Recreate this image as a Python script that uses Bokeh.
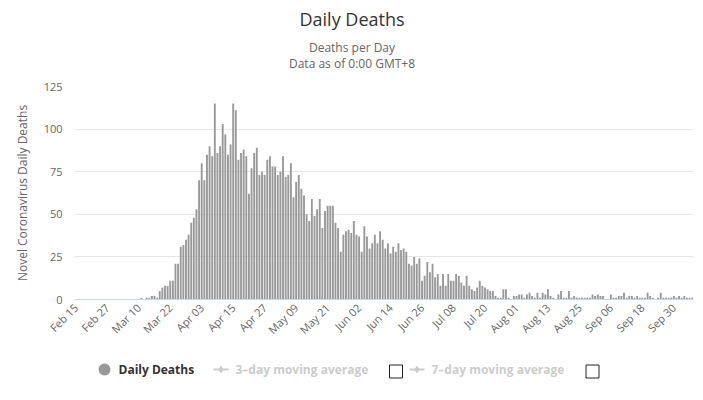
import pandas as pd
from math import pi
from bokeh.plotting import figure
from bokeh.layouts import column
from bokeh.models import Range1d, FixedTicker, DatetimeTickFormatter, ColumnDataSource
from bokeh.core.properties import value
from bokeh.embed import file_html
from bokeh.resources import INLINE

# ---------------- data ----------------
start_date = "2020-02-15"
deaths = [
    0, 0, 0, 0, 0, 0, 0, 0, 0, 0, 0, 0, 0, 0, 0, 0, 0, 0, 0, 0, 0, 0, 0, 0, 0,
    1, 0, 1, 1, 2, 2, 1,
    5, 7, 8, 8, 11, 11, 21, 21, 31, 32, 35, 38, 45, 48, 53, 70, 80, 70,
    85, 90, 84, 115, 86, 90, 103, 97, 85, 91, 115, 111, 82, 86, 88, 84, 62, 77, 86, 89,
    73, 75, 73, 82, 84, 78, 78, 73, 75, 84, 72, 73, 80, 60, 69, 73, 65, 61, 50, 46,
    59, 49, 53, 59, 42, 52, 55, 55, 55, 45, 42, 28, 38, 40, 41, 39, 46, 38, 37, 28,
    43, 37, 30, 33, 38, 33, 40, 35, 30, 33, 27, 31, 28, 33, 29, 30, 28, 21, 20, 25,
    21, 24, 11, 14, 22, 16, 21, 13, 15, 8, 15, 8, 15, 11, 11, 15, 14, 10, 8, 14,
    8, 6, 5, 7, 11, 8, 7, 6, 5, 5, 2, 1, 1, 6, 6, 1, 0, 2, 2, 3,
    3, 1, 3, 4, 2, 1, 4, 1, 4, 3, 6, 2, 1, 0, 3, 5, 1, 1, 5, 1,
    2, 1, 1, 1, 1, 1, 1, 3, 2, 3, 2, 2, 0, 0, 3, 1, 1, 2, 2, 4,
    1, 2, 2, 1, 2, 1, 1, 1, 4, 2, 1, 0, 1, 4, 1, 1, 1, 1, 2, 1, 2, 1, 2, 1, 1, 1,
]
tick_labels = ["Feb 15", "Feb 27", "Mar 10", "Mar 22", "Apr 03", "Apr 15", "Apr 27",
               "May 09", "May 21", "Jun 02", "Jun 14", "Jun 26", "Jul 08", "Jul 20",
               "Aug 01", "Aug 13", "Aug 25", "Sep 06", "Sep 18", "Sep 30"]
y_ticks = [0, 25, 50, 75, 100, 125]
title_text = "Daily Deaths"
subtitle_lines = ["Deaths per Day", "Data as of 0:00 GMT+8"]
y_title = "Novel Coronavirus Daily Deaths"
legend_labels = ["Daily Deaths", "3\u2013day moving average", "7\u2013day moving average"]

FONT = "Open Sans"
DAY_MS = 86400000
FRAME_L, FRAME_R = 74, 693   # page pixels of the plot frame (shared by the stacked figures)

dates = pd.date_range(start_date, periods=len(deaths), freq="D")
tick_dates = [pd.Timestamp(f"{t} 2020") for t in tick_labels]
tick_ms = [t.value / 1e6 for t in tick_dates]


def pixel_fig(h):
    f = figure(width=703, height=h, x_range=Range1d(FRAME_L, FRAME_R), y_range=Range1d(h, 0),
               toolbar_location=None, output_backend="svg",
               x_axis_location=None, y_axis_location=None,
               min_border_left=FRAME_L, min_border_right=703 - FRAME_R,
               min_border_top=0, min_border_bottom=0)
    f.grid.visible = False
    f.outline_line_color = None
    return f


# ---------------- header ----------------
header = pixel_fig(80)
header.text(x=[351.5], y=[18], text=[title_text], text_align="center", text_baseline="middle",
            text_font=value(FONT), text_font_size="18px", text_color="#333333")
header.text(x=[351.5, 351.5], y=[47, 63], text=subtitle_lines, text_align="center",
            text_baseline="middle", text_font=value(FONT), text_font_size="12px",
            text_color="#666666")

# ---------------- main plot ----------------
src = ColumnDataSource(data=dict(date=dates, deaths=deaths))
p = figure(width=703, height=270, x_axis_type="datetime",
           x_range=Range1d(start=dates[0] - pd.Timedelta(hours=12),
                           end=dates[-1] + pd.Timedelta(hours=12)),
           y_range=Range1d(0, 125), toolbar_location=None, output_backend="svg",
           min_border_left=FRAME_L, min_border_right=703 - FRAME_R,
           min_border_top=6, min_border_bottom=51)
p.outline_line_color = None
p.vbar(x="date", top="deaths", width=0.72 * DAY_MS, source=src,
       fill_color="#999999", line_color=None)

p.xgrid.visible = False
p.ygrid.grid_line_color = "#e6e6e6"
p.yaxis.ticker = FixedTicker(ticks=y_ticks)
p.yaxis.axis_line_color = None
p.yaxis.major_tick_line_color = None
p.yaxis.minor_tick_line_color = None
p.yaxis.major_tick_out = 0
p.yaxis.major_label_standoff = 12
p.yaxis.major_label_text_font = FONT
p.yaxis.major_label_text_font_size = "11px"
p.yaxis.major_label_text_color = "#666666"
p.yaxis.axis_label = y_title
p.yaxis.axis_label_text_font = FONT
p.yaxis.axis_label_text_font_size = "12px"
p.yaxis.axis_label_text_font_style = "normal"
p.yaxis.axis_label_text_color = "#666666"
p.yaxis.axis_label_standoff = 10

p.xaxis.ticker = FixedTicker(ticks=tick_ms)
fmt = "%b %d"
p.xaxis.formatter = DatetimeTickFormatter(microseconds=fmt, milliseconds=fmt, seconds=fmt,
                                          minsec=fmt, minutes=fmt, hourmin=fmt, hours=fmt,
                                          days=fmt, months=fmt, years=fmt)
p.xaxis.axis_line_color = "#ccd6eb"
p.xaxis.major_tick_line_color = None
p.xaxis.minor_tick_line_color = None
p.xaxis.major_tick_out = 0
p.xaxis.major_label_standoff = 6
p.xaxis.major_label_orientation = pi / 4
p.xaxis.major_label_text_font = FONT
p.xaxis.major_label_text_font_size = "11px"
p.xaxis.major_label_text_color = "#666666"

# ---------------- legend ----------------
leg = pixel_fig(50)
leg.scatter(x=[104], y=[19], size=12, marker="circle", fill_color="#999999", line_color=None)
leg.text(x=[118], y=[19], text=[legend_labels[0]], text_align="left", text_baseline="middle",
         text_font=value(FONT), text_font_size="12px", text_font_style="bold",
         text_color="#333333")
for x0, lab_x, sq_x, lab in [(213, 235, 395.5, legend_labels[1]),
                             (409, 431, 592, legend_labels[2])]:
    leg.line(x=[x0, x0 + 15], y=[19, 19], line_color="#cccccc", line_width=2)
    leg.scatter(x=[x0 + 7.5], y=[19], size=8, marker="diamond", fill_color="#cccccc",
                line_color=None)
    leg.text(x=[lab_x], y=[19], text=[lab], text_align="left", text_baseline="middle",
             text_font=value(FONT), text_font_size="12px", text_font_style="bold",
             text_color="#cccccc")
    leg.rect(x=[sq_x], y=[21], width=13, height=13, fill_color="white",
             line_color="#222222", line_width=1)

layout = column(header, p, leg, spacing=0)
open("out.html", "w").write(file_html(layout, INLINE))
